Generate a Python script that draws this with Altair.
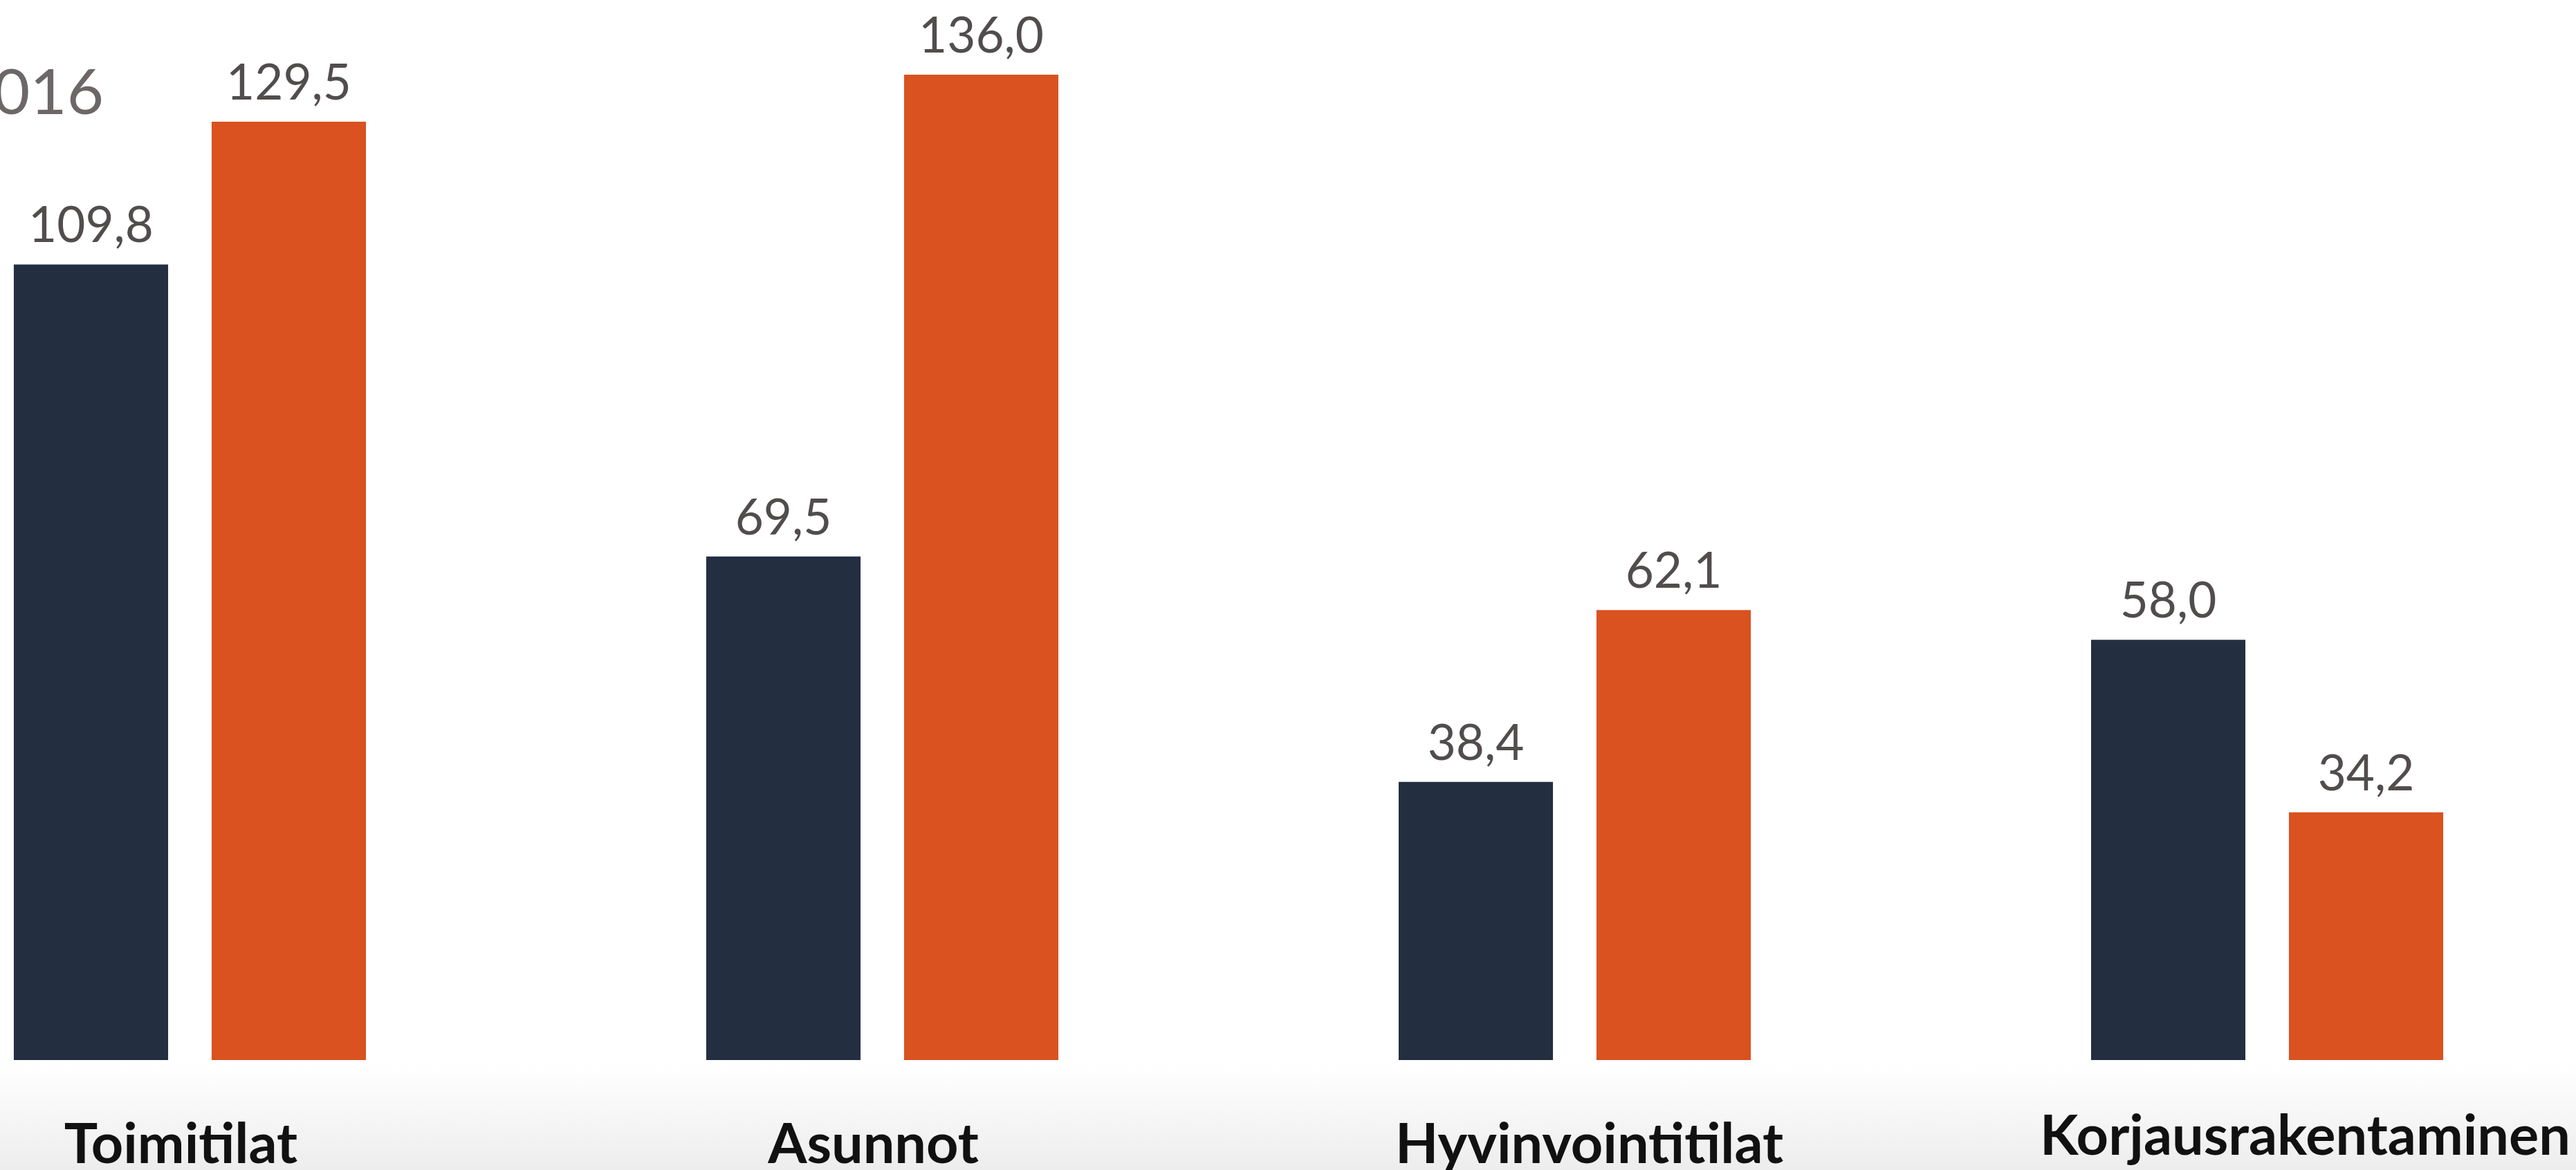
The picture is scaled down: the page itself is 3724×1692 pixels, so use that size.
import altair as alt
import pandas as pd

# Data
categories = ["Toimitilat", "Asunnot", "Hyvinvointitilat", "Korjausrakentaminen"]
years = ["2016", "2017"]
values_2016 = [109.8, 69.5, 38.4, 58.0]
values_2017 = [129.5, 136.0, 62.1, 34.2]
legend_label = "2016"

rows = []
for cat, v16, v17 in zip(categories, values_2016, values_2017):
    for yr, v in zip(years, [v16, v17]):
        rows.append({
            "category": cat,
            "year": yr,
            "value": v,
            "label": f"{v:.1f}".replace(".", ","),
        })
df = pd.DataFrame(rows)

FONT = "Lato"
PLOT_W = 3724
PLOT_H = 1533

# Category captions sit as free text boxes, nudged a little from the group centres
label_offset = {
    "condition": [
        {"test": "datum.value === 'Korjausrakentaminen'", "value": 55},
        {"test": "datum.value === 'Hyvinvointitilat'", "value": 21},
    ],
    "value": -13,
}
label_padding = {
    "condition": {"test": "datum.value === 'Korjausrakentaminen'", "value": 72},
    "value": 84,
}

x_enc = alt.X(
    "category:N",
    sort=categories,
    scale=alt.Scale(range=[-226, 3778], paddingInner=0, paddingOuter=0),
    axis=alt.Axis(
        title=None,
        domain=False,
        ticks=False,
        tickSize=0,
        grid=False,
        labelAngle=0,
        labelFont=FONT,
        labelFontWeight="bold",
        labelFontSize=81,
        labelColor="#111111",
        labelPadding=label_padding,
        labelOffset=label_offset,
        labelBaseline="top",
        labelLimit=0,
        zindex=2,
    ),
)
xo_enc = alt.XOffset(
    "year:N", sort=years, scale=alt.Scale(paddingInner=0.22, paddingOuter=0.86)
)
y_enc = alt.Y(
    "value:Q",
    scale=alt.Scale(domain=[0, 146.3], nice=False, zero=True),
    axis=None,
)
color_enc = alt.Color(
    "year:N",
    sort=years,
    scale=alt.Scale(domain=years, range=["#232e40", "#d95220"]),
    legend=None,
)

# Soft grey fade along the bottom edge
fade = alt.Chart(pd.DataFrame({"k": [0]})).mark_rect(
    color=alt.LinearGradient(
        gradient="linear",
        stops=[
            alt.GradientStop(color="#ffffff", offset=0),
            alt.GradientStop(color="#ededed", offset=1),
        ],
        x1=0, x2=0, y1=0, y2=1,
    )
).encode(
    x=alt.value(0), x2=alt.value(PLOT_W),
    y=alt.value(1540), y2=alt.value(1692),
)

bars = alt.Chart(df).mark_bar().encode(
    x=x_enc, xOffset=xo_enc, y=y_enc, color=color_enc
)

labels = alt.Chart(df).mark_text(
    baseline="alphabetic", dy=-32, font=FONT, fontSize=71, color="#524d4d"
).encode(
    x=x_enc, xOffset=xo_enc, y=y_enc, text="label:N"
)

legend_text = alt.Chart(pd.DataFrame({"t": [legend_label]})).mark_text(
    align="right", baseline="alphabetic", font=FONT, fontSize=92, color="#6d6767"
).encode(
    x=alt.value(150), y=alt.value(165), text="t:N"
)

chart = alt.layer(fade, bars, labels, legend_text).properties(
    width=PLOT_W,
    height=PLOT_H,
    autosize=alt.AutoSizeParams(type="none"),
    padding={"left": 0, "top": 0, "right": 0, "bottom": 159},
    background="#ffffff",
).configure_view(stroke=None)

chart.save("out.html", embed_options={"renderer": "svg", "actions": False})
